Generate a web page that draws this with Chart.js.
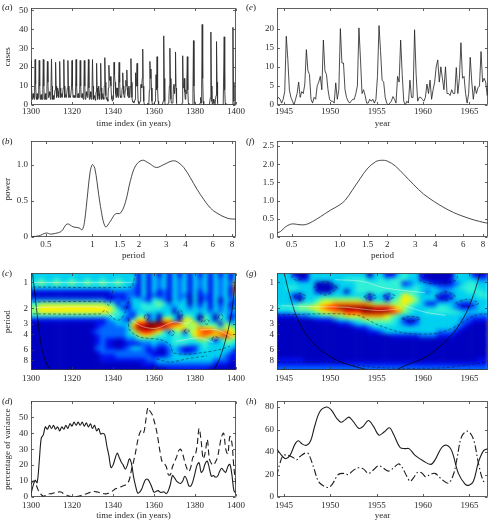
<!DOCTYPE html>
<html><head><meta charset="utf-8">
<style>
html,body{margin:0;padding:0;background:#fff;width:489px;height:520px;overflow:hidden}
canvas{position:absolute;display:block}
.pl{position:absolute;font:9px "Liberation Serif",serif;color:#222;line-height:11px}
</style>
<script src="https://cdn.jsdelivr.net/npm/chart.js@4"></script>
</head><body>
<script>
// ---------- panel (a) : cases, one value per quarter-year from 1300
const casesA = [
23.5,10,3,4,6,4,3,7, 24,11,4,3,6,3,4,8, 23.5,10,3,5,5.5,3,3,8, 24,10,3,4,6,3,3,7,
23,12,4,5,7,5,3,9, 24.2,10,3,3,5,3,3,8, 22.5,10,4,5,9,7,4,8, 23,9,4,5,6,4,4,9,
24,10,4,5,5.5,4,4,9, 23.5,10,4,5,5,4,4,9, 23.5,10,4,5,5,4,4,9, 24,10,4,5,6,4,4,8,
23.5,10,4,5,6,4,3,8, 23.5,10,3,4,7,5,4,9, 24,9,3,5,7,4,3,8, 24,10,3,4,5,3,2.5,7,
22,9,3,5,10,6,3,8, 22,9,3,4,6,4,3,10, 25,12,5,3,4,3,2,9, 21,14,13,15,10,5,3,2,
3,9,22.5,16,12,6,4,9, 9,5,4,14,22.5,12,5,4, 4,5,9,17,10,6,4,5, 8,13,10,18.5,9,5,4,10,
4,5,10,24.5,12,4,2,1.5, 1.5,1,1,3,17,10,15,22, 10,2,1,0.5,0.5,2,10,11, 9,14,29.5,10,2,0.5,0,0,
0,0,0,0,1,0,1,8, 23,14,19,9,2,0,0,0.5, 0.5,1,2,4,16,8,25.5,9, 2,0.5,0,0,0,0,0,0,
0,0,2,36.5,14,2,0,0, 0,0,0,0,1,3,10,30, 14,3,1,1,1,2,10,11, 6,10,28,9,1,0,0,0,
0,0,0,0,0,0,0.5,1, 26,9,10,14,7,3,8,6, 12,25.5,8,1,0.5,0,0,0, 0,0,0,0,6,34,10,1,
0,0,0,0,0,0,0,0, 0,0,1,4,1,8,42.5,14, 2,0,0,0,0,0,0,0, 0,0,0,0,0,0,4,38.5,
10,2,0.5,2,3,1,0.5,0, 3,5,33.5,12,1,0,0,0, 0,0,0,0,0,0,0,0, 0,36,8,1,0,0,0,0,
0,0,0,0,0,0,0,0, 0,0,41,12,2,0,0,0, 0];
// ---------- panel (e) : cases, six values per year from 1944.25
const casesE = [
1.5,2,1.5,0.5,1.5,3.5, 18,12,4,2,1,0, 1.5,3,6,2,3.5,3, 5.5,14.5,9,8,1.5,0.5,
2,1.5,5,6,7.5,4, 17,9,8,4,1.5,1, 1,0.5,5.8,1.5,4,20, 11,11,4,2,1,0.5,
1,1.5,1.5,3,5,20.2, 12,3,4,2.5,0.5,0.5, 1.5,1,1.5,0.5,1.5,7.5, 20.8,14,6.5,6,2,0.5,
0,0.5,1,2.2,1.5,0.5, 7.5,6,17,8,1,0, 1,0.5,6.5,2,2,19.7, 8,1,2,2,1.5,1,
2,5.5,3,6.5,1.5,4, 6,10,11.8,6,10,7, 4,10,3,3,2.5,4, 3,3,9.8,3,7,16.3,
7,7.5,3,0.5,3,12.5, 6,1.5,5,3,4.5,5, 14,6,7,6,2.5,7];
// ---------- panel (b) : global spectrum
const periodB = [.403,.449,.501,.535,.576,.63,.685,.75,.82,.857,.887,.933,.966,1,1.035,1.072,1.127,1.214,1.308,1.409,1.518,1.635,1.762,1.898,2.096,2.316,2.595,2.897,3.28,3.53,3.9,4.3,4.75,5.25,5.8,6.4,7.45,8.5];
const powerB = [.005,.015,.055,.04,.05,.08,.18,.14,.125,.1,.2,.62,.9,1,.95,.75,.42,.14,.22,.32,.33,.48,.78,.98,1.06,1.02,.96,1,1.05,1.04,.96,.82,.66,.52,.4,.33,.26,.245];
// ---------- panel (f) : global spectrum
const periodF = [.396,.425,.457,.491,.516,.555,.611,.673,.759,.878,1,1.09,1.2,1.355,1.49,1.685,1.83,1.995,2.25,2.54,2.93,3.38,3.96,4.54,5.24,5.9,7,8.3,8.7];
const powerF = [.1,.15,.28,.35,.36,.34,.34,.42,.56,.74,.88,1.02,1.28,1.62,1.87,2.07,2.11,2.09,1.95,1.72,1.44,1.18,.97,.81,.67,.58,.47,.39,.38];
// ---------- panel (d) : percentage of variance, yearly from 1300
const varSolidD = [2,7,10.5,9,22,37,39,44,42.5,45,43,45,42.5,44,41.5,44,42.5,45,43,46,44.5,47,45,47,45,47,44.5,46.5,44,46,43,45,41.5,43,39.5,40,39,32,26,18.5,20,24,27.5,25,22,20,17.5,20,24,21,13,7,2.5,3,5,8.5,11,11,9,6,3,3.5,4,3,3,3.2,2,4,8,13.5,12,10,9,8.5,10,13,11,7,7,10,15,20,21.5,15.5,17,21,22.5,18,13,13.5,12.5,13,16,18,16.5,15.5,19,20.5,14,4,2.5];
const varDashD = [8,10,9,6,3,1.5,.5,1,1.5,2,2,2.5,3,3,3.3,3,2,1.5,.8,.4,.3,.3,.3,.5,.8,1,1.5,2,2.5,3,3.5,3.5,3.2,3,2.5,2.2,2,2,2.5,3,4,5,5.5,6,6.5,7,7.5,8.5,11,17,22,28,35,40,42,40.5,48,56,54,52,48,43,36,28,22,21,19,14,14,19,22,25,29,30,27,22,18,16,19,25,26,32,43,35,24,28,36,24,21,20,22,25,32,38,40,30,27,38,34,18,8];
// ---------- panel (h)
const yearSolidH = [1944.21,1944.75,1945.18,1945.65,1946.19,1946.55,1946.98,1947.45,1947.88,1948.35,1948.88,1949.6,1950.14,1950.68,1951.15,1951.58,1952.01,1952.48,1953.09,1953.56,1954.1,1954.64,1955.25,1955.83,1956.37,1956.8,1957.52,1958.06,1958.49,1959.14,1960.04,1960.83,1961.29,1962.01,1962.55,1963.09,1963.81,1964.53,1964.96,1965.43,1965.97,1966.51,1966.98];
const varSolidH = [43,37,34,37,47,50,47,46,50,64,76,80,77,70,66.5,68.6,71,67,61,63,68,63,55,58,61.5,56,44,43,43,37,32,29,33,44,46,41,21,11.5,10.5,14,31,41,43];
const yearDashH = [1944.21,1944.57,1944.93,1945.47,1946.01,1946.37,1946.73,1947.27,1947.63,1948.17,1948.71,1949.24,1949.78,1950.22,1950.86,1951.4,1951.94,1952.48,1953.02,1953.56,1954.1,1954.64,1955.18,1955.72,1956.26,1956.8,1957.34,1957.7,1958.24,1958.6,1958.96,1959.42,1959.86,1960.29,1960.76,1961.29,1962.01,1962.73,1963.27,1963.63,1964.17,1964.82,1965.43,1965.97,1966.51,1966.87];
const varDashH = [18.5,30,37,37,35,33,36,39,38.5,27,14,10,8.5,11.5,20,21,20,23.7,26,25,21,24,27.7,25.7,23,25.7,29.4,27,18.5,14,17,22,21.4,18,20,21,15.7,12.3,20,33,54,58.5,51.4,30,14,14];
// ---------- heat maps: rows of levels 0-9 per period, columns per time step
const heatPeriods = [.83,.923,1.028,1.145,1.275,1.419,1.58,1.759,1.959,2.181,2.428,2.704,3.01,3.352,3.732,4.156,4.627,5.151,5.736,6.386,7.11,7.918,8.815,9.815];
const heatPalette = ['#0000c0','#0010f0','#0068ff','#00d0f0','#30f0d8','#90ff70','#fff000','#ff9000','#ff1800','#900000'];
const heatC = [
"33333333333333333333313131313131313131313",
"33433433433433433433413132313231323132314",
"44544544544544544543313132313231323132326",
"33333333333333333333213132313231323132317",
"21111111111111112222213131213231313132317",
"10000000000000001112213121213220312132315",
"22222222222222211212332143203230302130322",
"34555555555555544131334345423330313131312",
"45666666666666665311334444332332323132313",
"45666666666666665432233433330333333232323",
"34444444444444444432144130343044304304312",
"21111111111111123321466230663066305304313",
"10000000000001122333688999988755643440533",
"00000000000001222223799998876665576654564",
"00000000000012222223578876424515678877765",
"00000000000001222223356654434434677667876",
"00000000000001211012233333334444455313554",
"00000000000001210001112232234443334333443",
"00000000000002211012332121123211134333332",
"00000000000001222222222110023211233333321",
"00000000000000111222222211123333333333211",
"00000000000000111111111223333333333322211",
"00000000000000000000001112222222222211100",
"00000000000000000000000000011111111000000"];
const heatG = [
"3331003333333333033113433100000333101",
"3333113333334444334344433100001333322",
"3333333000333344444444123321101234433",
"3344333000033344444444334333222344433",
"3333333100330344444444444323323334443",
"3331033333333333033134654333101333344",
"3332033455555554133145665333112333333",
"3333444566777777655555654311333211233",
"4444556678899999988876543333443211233",
"3334444566778889999987543344444433333",
"1111223344556667777654333333333332222",
"0000000111233445555543101333333322111",
"0000000000011233444443212333333321000",
"0000000000000011233333333333333210000",
"0000000000000000112333333333222100000",
"0000000000000000000011111222111000000",
"0000000000000000000000000000000000000",
"0000000000000000000000000000000000000",
"0000000000000000000000000000000000000",
"0000000000000000000000000000000000000",
"0000000000000000000000000000000000000",
"1111100000000000000000000000000000011",
"1111111111111111111111111111111111111",
"2222222222222222222222222222222222222"];
// ---------- overlays on the heat maps: [time, period]
const coiC = [[[1300.8,.786],[1302,1.44],[1303.6,3.1],[1305.2,5.7],[1307.6,8.8],[1309.6,10.36]],
              [[1389.3,10.36],[1392.2,7.4],[1395.4,4.2],[1397.9,2.2],[1399.5,1.02],[1400,.8]]];
const ridgeC = [[[1301,1],[1349,1]],[[1302,1.95],[1335,1.95],[1338,2.3],[1341,2.5]],
  [[1349.1,2.75],[1354.8,3.27],[1361.3,3.4],[1369.4,2.87],[1376,3],[1378.4,2.75]],
  [[1382.4,3.55],[1390.6,3.55],[1398.7,4.4]],[[1371,4.8],[1382.4,4.4],[1388.9,5]]];
const contourC = [
  [[1301,1.13],[1349,1.13],[1350,.98],[1351,.8]],
  [[1301,1.68],[1336,1.68],[1338,1.85],[1339,1.6],[1340,1.2]],
  [[1301,2.31],[1334,2.31],[1336,2.1],[1341,2.7],[1343.5,2.7],[1346,2.2],[1348,1.5]],
  [[1347.5,2.63],[1348,3.55],[1353.2,4.3],[1362.9,4.6],[1367.8,5.25],[1369.4,6.5],[1376,6.8],[1384,6.5],[1392.2,6],[1397,5.5]],
  [[1361.3,7.7],[1367.8,8.4],[1376,7.7],[1385.7,7.1]],
  [[1355.1,2.52],[1356.4,2.31],[1357.7,2.52],[1356.4,2.75],[1355.1,2.52]],
  [[1371.4,2.31],[1372.7,2.08],[1374,2.31],[1372.7,2.56],[1371.4,2.31]],
  [[1367,3.87],[1368.6,3.6],[1370.2,3.87],[1368.6,4.12],[1367,3.87]],
  [[1374.6,3.65],[1375.9,3.47],[1377.2,3.65],[1375.9,3.87],[1374.6,3.65]],
  [[1381.6,2.63],[1382.9,2.41],[1384.2,2.63],[1382.9,2.87],[1381.6,2.63]],
  [[1384.4,2.87],[1385.7,2.67],[1387,2.87],[1385.7,3.07],[1384.4,2.87]],
  [[1388.1,4.49],[1389.8,4.2],[1391.4,4.49],[1389.8,4.77],[1388.1,4.49]],
  [[1391.2,2.52],[1392.5,2.31],[1393.8,2.52],[1392.5,2.75],[1391.2,2.52]]];
const coiG = [[[1945.04,.786],[1945.65,1.44],[1946.55,2.75],[1947.99,4.81],[1950.14,7.4],[1952.3,9.2],[1954.1,10.36]],
              [[1966.15,.786],[1965.25,1.58],[1964,3],[1962.4,4.81],[1960.2,7.4],[1958.06,9.2],[1957.16,10.36]]];
const ridgeG = [[[1944.75,1.86],[1948,1.91],[1951.6,1.94],[1955.2,2.12],[1957.3,2.03]],
  [[1958,1.86],[1960.2,2.21],[1962.4,2.41]],[[1950.5,.93],[1953.4,.97],[1955.9,1.16],[1960.2,1.32]]];
const contourG = [
  [[1944.3,2.37],[1952.7,2.37],[1955.2,3.13],[1958.06,3.87],[1961.65,3.87],[1963.8,3.13],[1965.6,2.41],[1967,2.31]],
  [[1944.3,8.4],[1950,8.4],[1953,9.2],[1956,9.8],[1962,9.8],[1965,9],[1967,8.3]],
  [[1948.17,1.16],[1949.4,.97],[1950.7,1.16],[1949.4,1.4],[1948.17,1.16]],
  [[1945.8,.87],[1946.4,.8],[1947,.87],[1946.4,.95],[1945.8,.87]],
  [[1946.1,1.46],[1946.7,1.34],[1947.4,1.46],[1946.7,1.61],[1946.1,1.46]],
  [[1953.6,1.47],[1954.3,1.36],[1955,1.47],[1954.3,1.59],[1953.6,1.47]],
  [[1955.7,1.44],[1956.3,1.35],[1957,1.44],[1956.3,1.57],[1955.7,1.44]],
  [[1957.7,2.63],[1958.6,2.47],[1959.7,2.63],[1958.6,2.82],[1957.7,2.63]],
  [[1963.45,1.74],[1964.7,1.57],[1966,1.74],[1964.7,1.91],[1963.45,1.74]],
  [[1961.3,1.44],[1962.4,1.28],[1963.45,1.44],[1962.4,1.61],[1961.3,1.44]],
  [[1959.7,.8],[1959.7,.95],[1961,1.03],[1963.5,.95],[1963.8,.8]]];
// ---------- axis ticks
const yearTicksL = [1300,1320,1340,1360,1380,1400];
const yearTicksR = [1945,1950,1955,1960,1965];
const periodTicks = [0.5,1,1.5,2,3,4,6,8];
const periodTicksF = [0.5,1,1.5,2,3,4,6,8];
const periodLabelsF = {0.5:'0.5',1:'1.0',1.5:'1.5',2:'2',3:'3',4:'4',6:'6',8:'8'};
const heatPeriodTicks = [1,2,3,4,6,8];

// ---------- layout of the sheet
const FONT = '"Liberation Serif", serif', FS = 9, INK = '#2a2a2a';
const rows = [[5,105],[138,237],[270,370],[398,497]];
const cols = [{left:0,width:252,axis:31,right:16},{left:245,width:244,axis:32,right:1}];

const zip = (xs,ys) => xs.map((x,i)=>({x,y:ys[i]}));
const stepped = (start,step,ys) => ys.map((y,i)=>({x:start+i*step,y}));
const pairs = a => a.map(p=>({x:p[0],y:p[1]}));
function line(data,o){ return Object.assign({type:'line',data,borderColor:'#1c1c1c',borderWidth:.8,pointRadius:0,fill:false,tension:0,parsing:false,normalized:true},o||{}); }
function heatSet(grid,t0,dt){
  const pts=[]; grid.forEach((r,i)=>{ for(let j=0;j<r.length;j++) pts.push({x:t0+j*dt,y:heatPeriods[i],v:+r[j]}); });
  return {type:'scatter',label:'power',data:pts,pointRadius:0,showLine:false,parsing:false,heat:true,heatStep:dt};
}
const heatPlugin = {id:'heat',beforeDatasetsDraw(ch){
  const ds = ch.data.datasets.find(d=>d.heat); if(!ds) return;
  const a=ch.chartArea,xS=ch.scales.x,yS=ch.scales.y;
  const off=document.createElement('canvas'); off.width=ch.width; off.height=ch.height;
  const o=off.getContext('2d');
  const w=Math.abs(xS.getPixelForValue(xS.min+ds.heatStep)-xS.getPixelForValue(xS.min));
  const h=Math.abs(yS.getPixelForValue(heatPeriods[1])-yS.getPixelForValue(heatPeriods[0]));
  ds.data.forEach(p=>{
    let x0=xS.getPixelForValue(p.x)-w/2,x1=x0+w,y0=yS.getPixelForValue(p.y)-h/2,y1=y0+h;
    if(x0<a.left+w) x0-=12; if(x1>a.right-w) x1+=12; if(y0<a.top+h) y0-=12; if(y1>a.bottom-h) y1+=12;
    o.fillStyle=heatPalette[p.v]; o.fillRect(x0,y0,x1-x0+.6,y1-y0+.6);
  });
  const c=ch.ctx; c.save(); c.beginPath(); c.rect(a.left,a.top,a.right-a.left,a.bottom-a.top); c.clip();
  c.filter='blur(1.9px)'; c.drawImage(off,0,0); c.restore();
}};
const framePlugin = {id:'frame',afterDraw(ch){
  const c=ch.ctx,a=ch.chartArea,xS=ch.scales.x,yS=ch.scales.y,L=Math.round(a.left)+.5,R=Math.round(a.right)-.5,T=Math.round(a.top)+.5,B=Math.round(a.bottom)-.5,t=2.5;
  c.save(); c.strokeStyle='#3a3a3a'; c.lineWidth=.8; c.strokeRect(L,T,R-L,B-T);
  c.beginPath();
  xS.ticks.forEach(k=>{const p=Math.round(xS.getPixelForValue(k.value))+.5; c.moveTo(p,B);c.lineTo(p,B-t);c.moveTo(p,T);c.lineTo(p,T+t);});
  yS.ticks.forEach(k=>{const p=Math.round(yS.getPixelForValue(k.value))+.5; c.moveTo(L,p);c.lineTo(L+t,p);c.moveTo(R,p);c.lineTo(R-t,p);});
  c.stroke(); c.restore();
}};
const setTicks = list => s => { s.ticks = list.map(v=>({value:v})); };
const font = {family:FONT,size:FS};

function panel(tag,col,row,cfg){
  const C=cols[col],[top,bot]=rows[row],cv=document.createElement('canvas');
  const H=bot-top+5+28;
  cv.width=C.width; cv.height=H; cv.style.left=C.left+'px'; cv.style.top=(top-5)+'px';
  cv.style.zIndex=row; document.body.appendChild(cv);
  new Chart(cv,{data:{datasets:cfg.datasets},plugins:[heatPlugin,framePlugin],options:{
    responsive:false,animation:false,devicePixelRatio:1,events:[],
    layout:{padding:{top:5,right:C.right,left:0,bottom:0}},
    plugins:{legend:{display:false},tooltip:{enabled:false},title:{display:false}},
    scales:{
      x:Object.assign({type:cfg.xType||'linear',position:'bottom',min:cfg.x[0],max:cfg.x[1],
        afterFit:s=>{s.height=28;},afterBuildTicks:setTicks(cfg.xTicks),
        grid:{display:false,drawTicks:false},border:{display:false},
        ticks:{font,color:INK,autoSkip:false,maxRotation:0,minRotation:0,padding:cfg.xPad||2,callback:cfg.xLabel||(v=>String(v))},
        title:{display:!!cfg.xTitle,text:cfg.xTitle||'',font,color:INK,padding:{top:0,bottom:cfg.xTitlePad==null?4:cfg.xTitlePad}}
      }),
      y:{type:cfg.yType||'linear',position:'left',min:cfg.y[0],max:cfg.y[1],reverse:!!cfg.yRev,
        afterFit:s=>{s.width=C.axis;},afterBuildTicks:setTicks(cfg.yTicks),
        grid:{display:false,drawTicks:false},border:{display:false},
        ticks:{font,color:INK,autoSkip:false,padding:3,callback:cfg.yLabel||(v=>String(v))},
        title:{display:!!cfg.yTitle,text:cfg.yTitle||'',font,color:INK,padding:{top:2,bottom:0}}
      }
    }}});
  const lab=document.createElement('div'); lab.className='pl';
  lab.innerHTML='(<i>'+tag+'</i>)'; lab.style.left=(col?246:2)+'px'; lab.style.top=(top-3.5+(row?1:0))+'px'; lab.style.zIndex=9;
  document.body.appendChild(lab);
}
const heatOverlays = (coi,ridge,contour)=>[
  ...contour.map(c=>line(pairs(c),{borderColor:'rgba(15,15,30,.8)',borderWidth:.6,borderDash:[3,2],tension:.3})),
  ...ridge.map(c=>line(pairs(c),{borderColor:'rgba(245,245,230,.75)',borderWidth:.6,tension:.3})),
  ...coi.map(c=>line(pairs(c),{borderColor:'#000',borderWidth:.7,tension:.4}))];

panel('a',0,0,{x:[1300,1400],xTicks:yearTicksL,y:[0,51],yTicks:[0,10,20,30,40,50],xTitle:'time index (in years)',yTitle:'cases',xPad:1,
  datasets:[line(stepped(1300,.25,casesA),{borderColor:'#303030',borderWidth:.9})]});
panel('e',1,0,{x:[1944.25,1967],xTicks:yearTicksR,y:[0,25.3],yTicks:[0,5,10,15,20],xTitle:'year',xPad:1,
  datasets:[line(stepped(1944.25,1/6,casesE),{borderColor:'#202020',borderWidth:.8})]});
panel('b',0,1,{xType:'logarithmic',x:[.4,8.5],xTicks:periodTicks,y:[0,1.32],yTicks:[0,.5,1],yLabel:v=>v===0?'0':v.toFixed(1),xTitle:'period',yTitle:'power',xPad:2,
  datasets:[line(zip(periodB,powerB),{tension:.35})]});
panel('f',1,1,{xType:'logarithmic',x:[.404,8.6],xTicks:periodTicksF,xLabel:v=>periodLabelsF[v],y:[0,2.63],yTicks:[0,.5,1,1.5,2,2.5],yLabel:v=>v===0?'0':v.toFixed(1),xTitle:'period',xPad:2,
  datasets:[line(zip(periodF,powerF),{tension:.35})]});
panel('c',0,2,{x:[1300,1400],xTicks:yearTicksL,yType:'logarithmic',y:[.786,10.36],yRev:true,yTicks:heatPeriodTicks,yTitle:'period',xPad:3,
  datasets:[...heatOverlays(coiC,ridgeC,contourC),heatSet(heatC,1300,2.5)]});
panel('g',1,2,{x:[1944.25,1967],xTicks:yearTicksR,yType:'logarithmic',y:[.786,10.36],yRev:true,yTicks:heatPeriodTicks,xPad:3,
  datasets:[...heatOverlays(coiG,ridgeG,contourG),heatSet(heatG,1944.25,.625)]});
panel('d',0,3,{x:[1300,1400],xTicks:yearTicksL,y:[0,60],yTicks:[0,10,20,30,40,50],xTitle:'time index (in years)',yTitle:'percentage of variance',xPad:3,
  datasets:[line(stepped(1300,1,varSolidD),{borderWidth:1.1,tension:.35}),line(stepped(1300,1,varDashD),{borderWidth:1.1,borderDash:[6,3.5],tension:.35})]});
panel('h',1,3,{x:[1944.25,1967],xTicks:yearTicksR,y:[0,85],yTicks:[0,20,40,60,80],xTitle:'year',xPad:3,
  datasets:[line(zip(yearSolidH,varSolidH),{borderWidth:1.1,tension:.35}),line(zip(yearDashH,varDashH),{borderWidth:1.1,borderDash:[7,2.5,1.5,2.5],tension:.35})]});
</script>
</body></html>
